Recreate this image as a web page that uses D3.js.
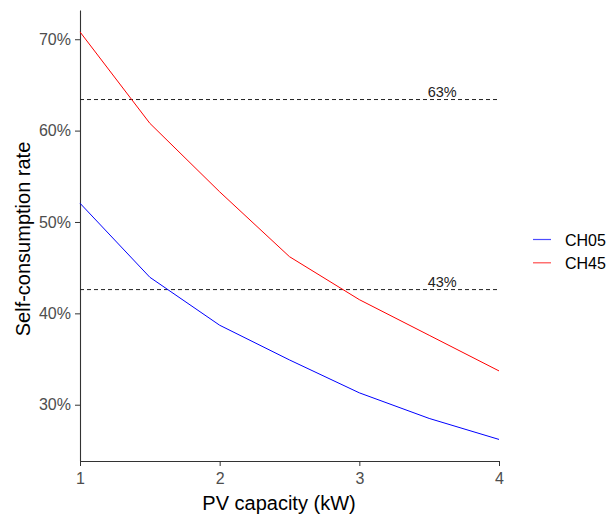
<!DOCTYPE html>
<html>
<head>
<meta charset="utf-8">
<script src="https://cdn.jsdelivr.net/npm/d3@7"></script>
<style>
body { margin: 0; background: #fff; }
svg { display: block; font-family: "Liberation Sans", Arial, sans-serif; }
</style>
</head>
<body>
<svg id="chart" width="608" height="516"></svg>
<script>
const capacity = [1, 1.5, 2, 2.5, 3, 3.5, 4];
const ch05 = [52.05, 43.95, 38.7, 34.9, 31.3, 28.5, 26.2];
const ch45 = [70.8, 60.8, 53.3, 46.2, 41.5, 37.6, 33.7];
const seriesNames = ["CH05", "CH45"];
const seriesColors = ["#0000ff", "#ff0000"];
const refValues = [63.4, 42.6];
const refLabels = ["63%", "43%"];
const xTicks = [1, 2, 3, 4];
const yTicks = [30, 40, 50, 60, 70];

const svg = d3.select("#chart");
const x = d3.scaleLinear().domain([1, 4]).range([80, 499]);
const y = d3.scaleLinear().domain([23.84, 73.2]).range([461, 10]);

// axes
const yAxis = svg.append("g").attr("transform", "translate(80,0)")
  .call(d3.axisLeft(y).tickValues(yTicks).tickFormat(d => d + "%").tickSize(5).tickPadding(4).tickSizeOuter(0));
const xAxis = svg.append("g").attr("transform", "translate(0,461)")
  .call(d3.axisBottom(x).tickValues(xTicks).tickFormat(d3.format("d")).tickSize(5).tickPadding(7).tickSizeOuter(0));
[yAxis, xAxis].forEach(g => {
  g.select(".domain").attr("stroke", "#333").attr("stroke-width", 1.1);
  g.selectAll(".tick line").attr("stroke", "#333");
  g.selectAll(".tick text").attr("fill", "#4d4d4d").attr("font-size", 16)
    .attr("font-family", "Liberation Sans, Arial, sans-serif");
});

// reference lines
refValues.forEach((v, i) => {
  svg.append("line")
    .attr("x1", x(1)).attr("x2", x(4))
    .attr("y1", y(v)).attr("y2", y(v))
    .attr("stroke", "#222").attr("stroke-width", 1)
    .attr("stroke-dasharray", "4,3");
  svg.append("text")
    .attr("x", x(3.5) + 13).attr("y", y(v) - 3)
    .attr("text-anchor", "middle")
    .attr("font-size", 14.5).attr("fill", "#222")
    .text(refLabels[i]);
});

// lines
const data = [ch05, ch45];
const line = d3.line().x((d, i) => x(capacity[i])).y(d => y(d));
data.forEach((vals, k) => {
  svg.append("path").datum(vals)
    .attr("d", line)
    .attr("fill", "none")
    .attr("stroke", seriesColors[k])
    .attr("stroke-width", 1);
});

// axis titles
svg.append("text")
  .attr("x", 279).attr("y", 510)
  .attr("text-anchor", "middle")
  .attr("font-size", 20).attr("fill", "#000")
  .text("PV capacity (kW)");
svg.append("text")
  .attr("transform", "translate(30,239) rotate(-90)")
  .attr("text-anchor", "middle")
  .attr("font-size", 20).attr("fill", "#000")
  .text("Self-consumption rate");

// legend
seriesNames.forEach((name, k) => {
  const ly = 239.5 + k * 23.3;
  svg.append("line")
    .attr("x1", 533).attr("x2", 551)
    .attr("y1", ly).attr("y2", ly)
    .attr("stroke", seriesColors[k]).attr("stroke-width", 1.2)
    .attr("stroke-opacity", 0.7);
  svg.append("text")
    .attr("x", 565).attr("y", ly + 6)
    .attr("font-size", 16).attr("fill", "#000")
    .text(name);
});
</script>
</body>
</html>
